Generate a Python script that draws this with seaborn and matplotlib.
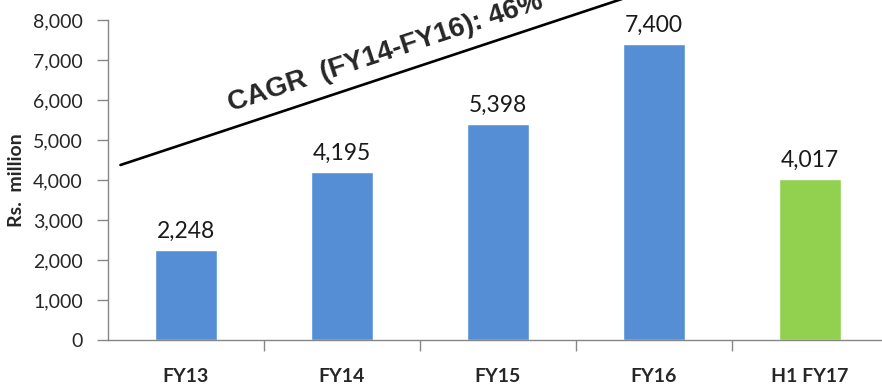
import numpy as np
import pandas as pd
import seaborn as sns
import matplotlib.pyplot as plt

# -------------------- Data --------------------
periods = ["FY13", "FY14", "FY15", "FY16", "H1 FY17"]
revenue = [2248, 4195, 5398, 7400, 4017]
bar_colors = ["#558ED5", "#558ED5", "#558ED5", "#558ED5", "#92D050"]
cagr_text = "CAGR  (FY14-FY16): 46%"

df = pd.DataFrame({"period": periods, "revenue": revenue})

# -------------------- Plot --------------------
sns.set_style("white")
plt.rcParams["font.family"] = ["Lato", "DejaVu Sans"]

fig = plt.figure(figsize=(8.82, 3.89), dpi=100)
ax = fig.add_axes([108 / 882, 1 - 340 / 389, 780 / 882, 320 / 389])

sns.barplot(data=df, x="period", y="revenue", hue="period",
            palette=bar_colors, width=0.4, saturation=1,
            legend=False, ax=ax)

# value labels above bars
for cont in ax.containers:
    ax.bar_label(cont, labels=[f"{v:,.0f}" for v in cont.datavalues],
                 padding=6, fontsize=16.5, color="#1a1a1a")

ax.set_ylim(0, 8000)
ax.set_xlim(-0.5, len(periods) - 0.5)
ax.set_yticks(np.arange(0, 8001, 1000))
ax.yaxis.set_major_formatter(plt.FuncFormatter(lambda v, p: f"{v:,.0f}"))
ax.tick_params(axis="y", labelsize=14, length=8, width=1, color="#868686",
               pad=10, left=True)

# category labels, boundary ticks on the x axis
ax.set_xlabel("")
ax.tick_params(axis="x", which="major", length=0, pad=20)
for lab in ax.get_xticklabels():
    lab.set_fontweight("bold")
    lab.set_fontsize(14)
ax.set_xticks(np.arange(0.5, len(periods) - 0.5, 1), minor=True)
ax.tick_params(axis="x", which="minor", length=8, width=1, color="#868686",
               bottom=True, direction="out")

ax.set_ylabel("Rs.  million", fontsize=14, fontweight="bold", labelpad=6)

for side in ["top", "right"]:
    ax.spines[side].set_visible(False)
for side in ["left", "bottom"]:
    ax.spines[side].set_color("#868686")
    ax.spines[side].set_linewidth(1)

# CAGR trend line and label (runs off the top of the figure)
ax.plot([-0.42, 4.6], [4375, 4375 + 5.02 * 1291], color="black",
        lw=1.9, clip_on=False)
ax.text(1.28, 7175, cagr_text, rotation=18.3, rotation_mode="anchor",
        ha="center", va="center", fontsize=20, fontweight="bold",
        family=["Liberation Sans", "DejaVu Sans"], clip_on=False)

fig.savefig("out.png", dpi=100)
